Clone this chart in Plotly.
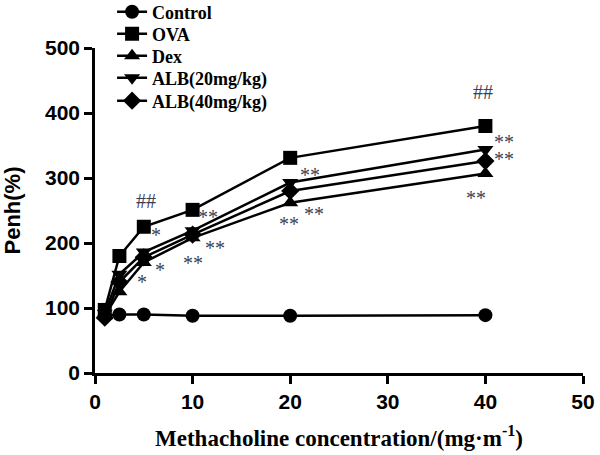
import plotly.graph_objects as go

# Methacholine doses (x) and Penh values per group
doses = [1, 2.5, 5, 10, 20, 40]
groups = ["Control", "OVA", "Dex", "ALB(20mg/kg)", "ALB(40mg/kg)"]
penh_control = [88, 90, 90, 88, 88, 89]
penh_ova = [97, 180, 225, 251, 331, 380]
penh_dex = [88, 125, 170, 208, 262, 307]
penh_alb20 = [92, 152, 186, 219, 293, 344]
penh_alb40 = [85, 140, 178, 213, 280, 326]

# significance marks: (label, x, y)
sig_labels = ["##", "##", "*", "*", "*", "**", "**", "**", "**", "**", "**", "**", "**", "**"]
sig_x = [5.2, 39.8, 6.3, 6.7, 4.8, 11.6, 12.3, 10.0, 22.0, 22.4, 19.9, 41.9, 41.9, 39.0]
sig_y = [264, 432, 212, 158, 140, 240, 193, 170, 304, 244, 230, 355, 329, 269]

series = [penh_control, penh_ova, penh_dex, penh_alb20, penh_alb40]
symbols = ["circle", "square", "triangle-up", "triangle-down", "diamond"]

W, H = 600, 455
M_L, M_R, M_T, M_B = 95, 17, 48, 82
plot_h = H - M_T - M_B

fig = go.Figure()
legend_keys = ["legend", "legend2", "legend3", "legend4", "legend5"]
for name, vals, sym, lk in zip(groups, series, symbols, legend_keys):
    fig.add_trace(go.Scatter(
        x=doses, y=vals, name=name, mode="lines+markers", legend=lk,
        line=dict(color="black", width=2.5),
        marker=dict(symbol=sym, size=14, color="black"),
    ))

for lab, xx, yy in zip(sig_labels, sig_x, sig_y):
    fig.add_annotation(
        x=xx, y=yy, text=lab, showarrow=False,
        font=dict(family="Liberation Serif", size=20, color="#3b3f55"),
    )

# one small legend per series so the rows sit as tightly as in the original
legend_rows_px = [12, 34, 56, 78, 101]  # row centres, pixels from top
for lk, py in zip(legend_keys, legend_rows_px):
    fig.update_layout({lk: dict(
        x=0.035, y=(M_T + plot_h - py) / plot_h,
        xanchor="left", yanchor="middle",
        bgcolor="rgba(0,0,0,0)", borderwidth=0,
        font=dict(family="Liberation Serif", size=18, color="black", weight="bold"),
    )})

fig.update_layout(
    width=W, height=H,
    paper_bgcolor="white", plot_bgcolor="white",
    margin=dict(l=M_L, r=M_R, t=M_T, b=M_B, autoexpand=False),
    showlegend=True,
    xaxis=dict(
        range=[0, 50], tickvals=[0, 10, 20, 30, 40, 50], automargin=False,
        showline=True, linecolor="black", linewidth=2.5,
        ticks="outside", ticklen=8, tickwidth=2.5, tickcolor="black",
        showgrid=False, zeroline=False,
        tickfont=dict(family="Liberation Sans", size=21, color="black", weight="bold"),
        title=dict(
            text="Methacholine concentration/(mg·m<sup>-1</sup>)",
            font=dict(family="Liberation Serif", size=23, color="black", weight="bold"),
            standoff=18,
        ),
    ),
    yaxis=dict(
        range=[0, 500], tickvals=[0, 100, 200, 300, 400, 500], automargin=False,
        showline=True, linecolor="black", linewidth=2.5,
        ticks="outside", ticklen=8, tickwidth=2.5, tickcolor="black",
        showgrid=False, zeroline=False,
        tickfont=dict(family="Liberation Sans", size=21, color="black", weight="bold"),
        title=dict(
            text="Penh(%)",
            font=dict(family="Liberation Sans", size=22, color="black", weight="bold"),
            standoff=20,
        ),
    ),
)

# drop the browser's default 8px body margin so the figure fills the window
fig.write_html("out.html", config={"displayModeBar": False},
               post_script="document.body.style.margin='0';")
